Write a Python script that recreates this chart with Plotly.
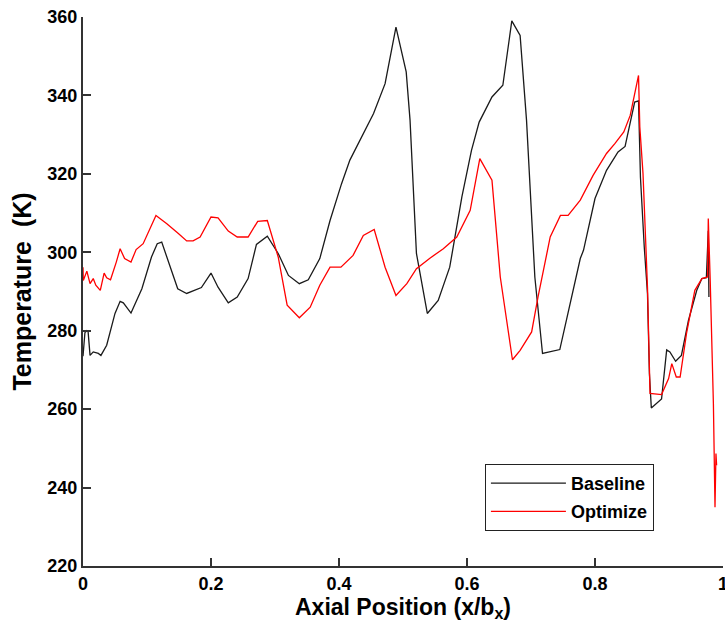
import plotly.graph_objects as go

# Baseline series (x/bx, Temperature K)
base_x = [0.0, 0.003, 0.006, 0.008, 0.011, 0.016, 0.024, 0.028, 0.037, 0.050, 0.058, 0.063,
          0.075, 0.092, 0.107, 0.116, 0.123, 0.133, 0.148, 0.162, 0.175, 0.185, 0.200, 0.211,
          0.227, 0.241, 0.258, 0.271, 0.288, 0.305, 0.321, 0.338, 0.352, 0.370, 0.386, 0.404,
          0.417, 0.435, 0.454, 0.472, 0.489, 0.505, 0.511, 0.521, 0.538, 0.555, 0.573, 0.592,
          0.607, 0.619, 0.639, 0.656, 0.670, 0.683, 0.693, 0.706, 0.718, 0.745, 0.761, 0.777,
          0.782, 0.800, 0.818, 0.836, 0.847, 0.855, 0.862, 0.868, 0.871, 0.877, 0.882, 0.885,
          0.888, 0.904, 0.912, 0.917, 0.926, 0.935, 0.946, 0.959, 0.967, 0.974, 0.977, 0.978]
base_t = [273.5, 279.5, 280.0, 279.7, 273.7, 274.6, 274.2, 273.7, 276.3, 284.4, 287.5, 287.1,
          284.5, 290.7, 298.8, 302.2, 302.6, 298.0, 290.7, 289.5, 290.3, 291.0, 294.7, 291.1,
          287.1, 288.6, 293.3, 302.0, 304.1, 299.7, 294.1, 292.0, 293.0, 298.4, 308.1, 317.5,
          323.5, 329.4, 335.4, 343.0, 357.4, 346.0, 333.7, 299.7, 284.4, 287.7, 296.2, 314.1,
          326.0, 333.2, 339.6, 342.6, 359.0, 355.3, 333.7, 293.7, 274.2, 275.2, 286.9, 298.4,
          300.5, 313.7, 320.9, 325.6, 327.0, 333.2, 338.3, 338.6, 319.2, 301.3, 289.5, 269.1,
          260.3, 262.6, 275.1, 274.6, 272.2, 273.7, 282.6, 290.3, 293.3, 293.5, 305.5, 288.6]

# Optimize series
opt_x = [0.0, 0.0005, 0.006, 0.011, 0.016, 0.020, 0.027, 0.033, 0.037, 0.043, 0.052, 0.058,
         0.065, 0.075, 0.083, 0.094, 0.114, 0.131, 0.149, 0.162, 0.172, 0.183, 0.200, 0.211,
         0.227, 0.241, 0.258, 0.273, 0.288, 0.305, 0.319, 0.338, 0.355, 0.370, 0.386, 0.403,
         0.422, 0.438, 0.455, 0.472, 0.489, 0.506, 0.521, 0.542, 0.563, 0.584, 0.605, 0.620,
         0.639, 0.652, 0.671, 0.683, 0.701, 0.711, 0.730, 0.746, 0.758, 0.777, 0.797, 0.818,
         0.831, 0.845, 0.855, 0.862, 0.868, 0.870, 0.875, 0.882, 0.886, 0.904, 0.915, 0.920,
         0.927, 0.933, 0.943, 0.956, 0.967, 0.976, 0.977, 0.980, 0.982, 0.985, 0.9875, 0.989,
         0.990]
opt_t = [296.2, 292.8, 295.2, 292.0, 293.3, 291.6, 290.3, 294.7, 293.5, 293.0, 297.5, 300.9,
         298.4, 297.5, 300.7, 302.2, 309.4, 307.3, 304.8, 302.9, 302.9, 303.9, 309.0, 308.8,
         305.4, 303.9, 303.9, 307.9, 308.1, 298.8, 286.5, 283.3, 286.0, 291.6, 296.2, 296.2,
         299.2, 304.3, 305.8, 296.2, 289.0, 292.0, 295.8, 298.5, 300.9, 303.9, 310.7, 323.9,
         318.4, 293.7, 272.6, 275.0, 279.7, 288.6, 303.9, 309.4, 309.4, 313.3, 319.6, 325.2,
         327.7, 330.7, 334.9, 340.9, 345.1, 332.0, 320.1, 291.1, 264.0, 263.7, 267.8, 271.6,
         268.2, 268.2, 279.3, 290.3, 293.3, 293.7, 308.6, 292.9, 279.3, 261.4, 235.0, 248.7,
         245.7]

x_ticks = [0, 0.2, 0.4, 0.6, 0.8, 1]
x_tick_labels = ["0", "0.2", "0.4", "0.6", "0.8", "1"]
y_ticks = [220, 240, 260, 280, 300, 320, 340, 360]

fig = go.Figure()
fig.add_trace(go.Scatter(x=base_x, y=base_t, mode="lines", name="Baseline",
                         legendgroup="a",
                         line=dict(color="#1a1a1a", width=1.3)))
fig.add_trace(go.Scatter(x=opt_x, y=opt_t, mode="lines", name="Optimize",
                         legendgroup="b",
                         line=dict(color="#ff0000", width=1.3)))

font_family = "Liberation Sans, Arial, sans-serif"
axis_color = "#333333"

fig.update_layout(
    width=725, height=629,
    margin=dict(l=83, r=2, t=17, b=63, autoexpand=False),
    paper_bgcolor="white", plot_bgcolor="white",
    font=dict(family=font_family, color="black"),
    showlegend=True,
    legend=dict(
        x=0.628, y=0.064, xanchor="left", yanchor="bottom",
        bgcolor="white", bordercolor="#222222", borderwidth=1,
        font=dict(size=18, family=font_family, color="black", weight="bold"),
        itemwidth=75, tracegroupgap=2, traceorder="grouped",
        entrywidth=67, entrywidthmode="pixels",
    ),
)
fig.update_xaxes(
    range=[0, 1], tickvals=x_ticks, ticktext=x_tick_labels,
    automargin=False, ticklabeloverflow="allow",
    showline=True, linecolor=axis_color, linewidth=2, mirror=False,
    ticks="inside", ticklen=8, tickwidth=1.5, tickcolor=axis_color,
    showgrid=False, zeroline=False,
    tickfont=dict(size=18, family=font_family, color="black", weight="bold"),
    title=dict(text="Axial Position (x/b<sub>x</sub>)", standoff=3,
               font=dict(size=23, family=font_family, color="black", weight="bold")),
)
fig.update_yaxes(
    range=[220, 360], tickvals=y_ticks,
    automargin=False, ticklabeloverflow="allow",
    showline=True, linecolor=axis_color, linewidth=2, mirror=False,
    ticks="inside", ticklen=8, tickwidth=1.5, tickcolor=axis_color,
    showgrid=False, zeroline=False,
    tickfont=dict(size=18, family=font_family, color="black", weight="bold"),
    title=dict(text="Temperature  (K)", standoff=9,
               font=dict(size=25, family=font_family, color="black", weight="bold")),
)

fig.write_html("out.html", config={"displayModeBar": False},
               post_script="document.body.style.margin='0';document.body.style.overflow='hidden';")
